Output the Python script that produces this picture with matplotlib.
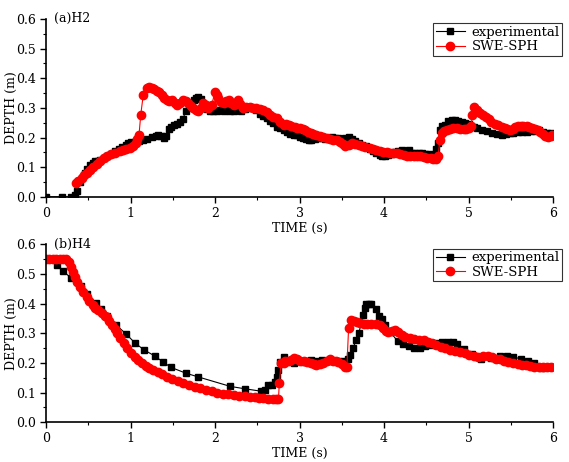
import matplotlib.pyplot as plt
from matplotlib.ticker import MultipleLocator

plt.rcParams['font.family'] = ['DejaVu Serif']

# (a) H2 - experimental
h2_exp_t = [0.0, 0.19, 0.30, 0.34, 0.37, 0.40, 0.43, 0.46, 0.49, 0.52, 0.55, 0.58, 0.61, 0.64,
            0.68, 0.72, 0.77, 0.82, 0.86, 0.90, 0.94, 0.97, 1.01, 1.05, 1.10, 1.15, 1.20,
            1.25, 1.30, 1.33, 1.36, 1.39, 1.42, 1.45, 1.48, 1.51, 1.55, 1.59, 1.62, 1.65,
            1.69, 1.72, 1.75, 1.78, 1.80, 1.83, 1.86, 1.90, 1.94, 1.98, 2.02, 2.06, 2.10,
            2.14, 2.18, 2.22, 2.26, 2.31, 2.35, 2.39, 2.44, 2.49, 2.53, 2.57, 2.61, 2.65,
            2.69, 2.73, 2.77, 2.81, 2.85, 2.89, 2.93, 2.97, 3.00, 3.04, 3.08, 3.11, 3.14,
            3.18, 3.22, 3.26, 3.30, 3.34, 3.38, 3.42, 3.46, 3.50, 3.54, 3.58, 3.62, 3.66,
            3.70, 3.74, 3.79, 3.83, 3.87, 3.91, 3.95, 3.98, 4.01, 4.05, 4.09, 4.13, 4.17,
            4.21, 4.25, 4.29, 4.33, 4.37, 4.41, 4.45, 4.49, 4.53, 4.58, 4.60, 4.62, 4.64,
            4.66, 4.69, 4.72, 4.76, 4.80, 4.84, 4.88, 4.92, 4.96, 5.00, 5.03, 5.06, 5.10,
            5.16, 5.22, 5.28, 5.34, 5.39, 5.44, 5.49, 5.53, 5.58, 5.63, 5.69, 5.74, 5.79,
            5.83, 5.88, 5.93, 5.98]
h2_exp_d = [0.0, 0.0, 0.0, 0.005, 0.02, 0.05, 0.065, 0.08, 0.095, 0.108, 0.115, 0.12, 0.122, 0.125,
            0.13, 0.136, 0.145, 0.153, 0.16, 0.168, 0.175, 0.181, 0.184, 0.186, 0.188, 0.192, 0.196,
            0.203, 0.205, 0.209, 0.205, 0.198, 0.205, 0.228, 0.235, 0.243, 0.245, 0.254, 0.262, 0.288,
            0.305, 0.315, 0.327, 0.335, 0.338, 0.33, 0.305, 0.295, 0.29, 0.288, 0.29, 0.294, 0.29,
            0.292, 0.288, 0.29, 0.292, 0.288, 0.295, 0.304, 0.298, 0.294, 0.28, 0.272, 0.265, 0.255,
            0.25, 0.237, 0.232, 0.225, 0.22, 0.212, 0.209, 0.207, 0.203, 0.2, 0.196, 0.192, 0.19,
            0.195, 0.2, 0.198, 0.195, 0.198, 0.201, 0.2, 0.199, 0.196, 0.2, 0.203, 0.196, 0.188,
            0.182, 0.176, 0.17, 0.162, 0.156, 0.147, 0.14, 0.137, 0.136, 0.14, 0.144, 0.15, 0.155,
            0.158, 0.156, 0.158, 0.149, 0.148, 0.147, 0.147, 0.146, 0.145, 0.14, 0.145, 0.16, 0.181,
            0.226, 0.238, 0.243, 0.257, 0.258, 0.258, 0.256, 0.254, 0.248, 0.245, 0.24, 0.237, 0.232,
            0.226, 0.222, 0.215, 0.212, 0.21, 0.213, 0.214, 0.215, 0.217, 0.218, 0.22, 0.221, 0.223,
            0.226, 0.22, 0.215, 0.215]

# (a) H2 - SWE-SPH
h2_sph_t = [0.355, 0.38, 0.42, 0.45, 0.49, 0.52, 0.56, 0.60, 0.64, 0.68, 0.72, 0.77, 0.82, 0.87,
            0.915, 0.95, 0.99, 1.03, 1.06, 1.08, 1.10, 1.12, 1.15, 1.19, 1.22, 1.25, 1.28,
            1.31, 1.34, 1.37, 1.40, 1.43, 1.46, 1.49, 1.52, 1.55, 1.58, 1.62, 1.65, 1.685,
            1.71, 1.74, 1.77, 1.80, 1.83, 1.86, 1.89, 1.92, 1.96, 2.00, 2.02, 2.04, 2.07,
            2.10, 2.13, 2.16, 2.19, 2.22, 2.25, 2.275, 2.30, 2.335, 2.37, 2.41, 2.45, 2.49,
            2.53, 2.57, 2.61, 2.65, 2.69, 2.73, 2.77, 2.81, 2.84, 2.87, 2.90, 2.94, 2.97,
            3.00, 3.04, 3.07, 3.10, 3.13, 3.16, 3.20, 3.24, 3.28, 3.32, 3.36, 3.40, 3.44,
            3.48, 3.51, 3.54, 3.58, 3.62, 3.66, 3.70, 3.74, 3.78, 3.83, 3.87, 3.91, 3.95,
            3.99, 4.03, 4.07, 4.11, 4.15, 4.19, 4.23, 4.27, 4.31, 4.35, 4.39, 4.43, 4.47,
            4.51, 4.55, 4.58, 4.61, 4.64, 4.66, 4.68, 4.71, 4.74, 4.78, 4.82, 4.86, 4.90,
            4.94, 4.97, 5.00, 5.03, 5.045, 5.06, 5.10, 5.14, 5.175, 5.21, 5.24, 5.27, 5.31,
            5.35, 5.39, 5.43, 5.46, 5.49, 5.52, 5.55, 5.59, 5.62, 5.65, 5.69, 5.72, 5.75,
            5.79, 5.82, 5.85, 5.88, 5.91, 5.94, 5.97, 5.99]
h2_sph_d = [0.046, 0.052, 0.063, 0.072, 0.082, 0.092, 0.102, 0.112, 0.122, 0.13, 0.136, 0.143, 0.149, 0.154,
            0.158, 0.161, 0.164, 0.17, 0.18, 0.195, 0.209, 0.276, 0.344, 0.366, 0.37, 0.368, 0.362,
            0.358, 0.352, 0.345, 0.335, 0.327, 0.323, 0.327, 0.318, 0.31, 0.318, 0.327, 0.322, 0.316,
            0.305, 0.299, 0.292, 0.288, 0.3, 0.316, 0.31, 0.299, 0.31, 0.355, 0.345, 0.333, 0.32,
            0.316, 0.322, 0.327, 0.318, 0.31, 0.318, 0.327, 0.312, 0.299, 0.302, 0.304, 0.3, 0.299,
            0.297, 0.294, 0.285, 0.276, 0.27, 0.265, 0.252, 0.243, 0.247, 0.243, 0.24, 0.236, 0.233,
            0.231, 0.228, 0.224, 0.22, 0.216, 0.212, 0.209, 0.205, 0.201, 0.198, 0.195, 0.192, 0.19,
            0.185, 0.178, 0.17, 0.176, 0.181, 0.177, 0.174, 0.172, 0.169, 0.164, 0.161, 0.158, 0.153,
            0.151, 0.15, 0.149, 0.148, 0.147, 0.145, 0.142, 0.139, 0.136, 0.136, 0.137, 0.136, 0.134,
            0.132, 0.13, 0.129, 0.128, 0.136, 0.192, 0.215, 0.222, 0.226, 0.229, 0.231, 0.231, 0.23,
            0.23, 0.23, 0.231, 0.24, 0.276, 0.302, 0.294, 0.284, 0.276, 0.268, 0.261, 0.254, 0.247,
            0.241, 0.237, 0.232, 0.228, 0.226, 0.23, 0.237, 0.239, 0.24, 0.24, 0.238, 0.236, 0.232,
            0.228, 0.224, 0.22, 0.213, 0.206, 0.203, 0.205, 0.209]

# (b) H4 - experimental
h4_exp_t = [0.0, 0.125, 0.20, 0.30, 0.41, 0.49, 0.59, 0.65, 0.725, 0.83, 0.95, 1.05, 1.16, 1.29,
            1.38, 1.48, 1.65, 1.80, 2.18, 2.35, 2.54, 2.59, 2.63, 2.67, 2.71, 2.73, 2.75,
            2.77, 2.81, 2.87, 2.93, 2.99, 3.05, 3.10, 3.14, 3.20, 3.26, 3.31, 3.36, 3.41,
            3.46, 3.50, 3.53, 3.57, 3.60, 3.63, 3.67, 3.70, 3.73, 3.75, 3.77, 3.79, 3.82,
            3.85, 3.90, 3.94, 3.97, 4.01, 4.07, 4.16, 4.22, 4.29, 4.35, 4.42, 4.49, 4.55,
            4.60, 4.68, 4.76, 4.81, 4.86, 4.95, 5.04, 5.15, 5.26, 5.37, 5.45, 5.53, 5.62,
            5.70, 5.77, 5.87, 5.96]
h4_exp_d = [0.55, 0.532, 0.511, 0.485, 0.46, 0.432, 0.404, 0.382, 0.358, 0.328, 0.297, 0.268, 0.244, 0.223,
            0.204, 0.185, 0.166, 0.153, 0.121, 0.113, 0.105, 0.11, 0.125, 0.126, 0.137, 0.154, 0.176,
            0.204, 0.221, 0.205, 0.199, 0.205, 0.202, 0.205, 0.21, 0.205, 0.21, 0.205, 0.207, 0.205,
            0.207, 0.203, 0.205, 0.215, 0.227, 0.249, 0.277, 0.3, 0.334, 0.362, 0.384, 0.399, 0.4,
            0.399, 0.381, 0.36, 0.35, 0.328, 0.305, 0.274, 0.263, 0.257, 0.251, 0.252, 0.257, 0.262,
            0.266, 0.27, 0.272, 0.27, 0.263, 0.247, 0.23, 0.212, 0.218, 0.225, 0.222, 0.221, 0.213,
            0.205, 0.199, 0.183, 0.186]

# (b) H4 - SWE-SPH
h4_sph_t = [0.0, 0.04, 0.08, 0.12, 0.16, 0.20, 0.24, 0.27, 0.30, 0.32, 0.34, 0.37, 0.40, 0.44,
            0.48, 0.51, 0.55, 0.58, 0.62, 0.66, 0.70, 0.725, 0.75, 0.78, 0.81, 0.84, 0.88,
            0.92, 0.96, 1.01, 1.05, 1.09, 1.13, 1.18, 1.22, 1.27, 1.32, 1.37, 1.43, 1.49,
            1.56, 1.625, 1.69, 1.76, 1.82, 1.89, 1.96, 2.02, 2.09, 2.15, 2.22, 2.28, 2.35,
            2.41, 2.47, 2.52, 2.57, 2.63, 2.69, 2.72, 2.75, 2.76, 2.78, 2.81, 2.83, 2.87,
            2.90, 2.93, 2.97, 3.01, 3.05, 3.09, 3.13, 3.17, 3.20, 3.24, 3.28, 3.32, 3.36,
            3.40, 3.43, 3.46, 3.50, 3.54, 3.56, 3.58, 3.61, 3.64, 3.68, 3.72, 3.76, 3.80,
            3.85, 3.90, 3.95, 3.99, 4.02, 4.05, 4.09, 4.13, 4.17, 4.21, 4.25, 4.31, 4.36,
            4.41, 4.47, 4.52, 4.57, 4.62, 4.67, 4.72, 4.78, 4.84, 4.90, 4.96, 5.01, 5.06,
            5.11, 5.17, 5.23, 5.28, 5.33, 5.37, 5.42, 5.47, 5.53, 5.58, 5.63, 5.68, 5.73,
            5.78, 5.83, 5.88, 5.93, 5.98]
h4_sph_d = [0.55, 0.55, 0.55, 0.55, 0.55, 0.55, 0.55, 0.54, 0.524, 0.508, 0.49, 0.474, 0.457, 0.44,
            0.423, 0.41, 0.397, 0.387, 0.378, 0.367, 0.36, 0.354, 0.343, 0.328, 0.314, 0.3, 0.283,
            0.266, 0.25, 0.232, 0.221, 0.21, 0.2, 0.191, 0.183, 0.176, 0.169, 0.162, 0.154, 0.147,
            0.138, 0.131, 0.125, 0.119, 0.115, 0.11, 0.105, 0.1, 0.097, 0.094, 0.092, 0.09, 0.088,
            0.086, 0.084, 0.083, 0.081, 0.08, 0.078, 0.078, 0.078, 0.131, 0.199, 0.2, 0.205, 0.207,
            0.21, 0.216, 0.212, 0.208, 0.207, 0.203, 0.2, 0.196, 0.193, 0.195, 0.2, 0.206, 0.212,
            0.208, 0.205, 0.203, 0.196, 0.188, 0.187, 0.317, 0.345, 0.342, 0.339, 0.336, 0.333, 0.331,
            0.33, 0.33, 0.328, 0.318, 0.308, 0.305, 0.308, 0.311, 0.303, 0.294, 0.288, 0.283, 0.28,
            0.279, 0.277, 0.272, 0.266, 0.26, 0.254, 0.249, 0.244, 0.24, 0.236, 0.232, 0.228, 0.224,
            0.221, 0.223, 0.224, 0.219, 0.215, 0.212, 0.208, 0.204, 0.2, 0.197, 0.194, 0.192, 0.19,
            0.188, 0.186, 0.185, 0.185, 0.186]

panels = [("(a)H2", h2_exp_t, h2_exp_d, h2_sph_t, h2_sph_d),
          ("(b)H4", h4_exp_t, h4_exp_d, h4_sph_t, h4_sph_d)]

fig = plt.figure(figsize=(5.69, 4.62), dpi=100)
boxes = [[0.081, 0.574, 0.891, 0.385], [0.081, 0.086, 0.891, 0.385]]

for box, (label, et, ed, st, sd) in zip(boxes, panels):
    ax = fig.add_axes(box)
    ax.plot(et, ed, color='black', marker='s', markersize=4.5, linewidth=0.8,
            label='experimental')
    ax.plot(st, sd, color='red', marker='o', markersize=6, linewidth=0.8,
            label='SWE-SPH')
    ax.set_xlim(0, 6)
    ax.set_ylim(0, 0.6)
    ax.xaxis.set_major_locator(MultipleLocator(1))
    ax.xaxis.set_minor_locator(MultipleLocator(0.5))
    ax.yaxis.set_major_locator(MultipleLocator(0.1))
    ax.yaxis.set_minor_locator(MultipleLocator(0.05))
    ax.yaxis.set_major_formatter(plt.FormatStrFormatter('%.1f'))
    for side in ['top', 'right']:
        ax.spines[side].set_visible(False)
    for side in ['left', 'bottom']:
        ax.spines[side].set_linewidth(1.2)
    ax.tick_params(which='major', direction='out', length=4, width=1, labelsize=9, pad=3)
    ax.tick_params(which='minor', direction='out', length=2.5, width=0.8)
    ax.set_xlabel('TIME (s)', fontsize=9)
    ax.set_ylabel('DEPTH (m)', fontsize=9)
    ax.xaxis.set_label_coords(0.5, -0.14)
    ax.yaxis.set_label_coords(-0.056, 0.5)
    ax.text(0.015, 1.0, label, transform=ax.transAxes, fontsize=9, va='center', ha='left')
    leg = ax.legend(loc='upper right', bbox_to_anchor=(1.018, 0.975), fontsize=9.5,
                    frameon=True, fancybox=False, edgecolor='black', borderpad=0.2,
                    handlelength=2.2, handletextpad=0.5, labelspacing=0.1, borderaxespad=0)
    leg.get_frame().set_linewidth(0.8)

fig.savefig('out.png', dpi=100)
